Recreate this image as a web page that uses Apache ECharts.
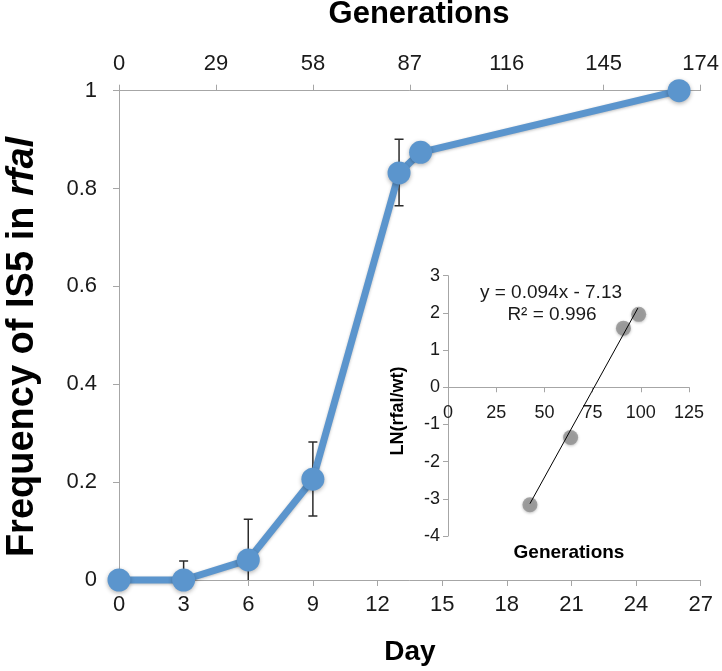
<!DOCTYPE html>
<html>
<head>
<meta charset="utf-8">
<script src="https://cdn.jsdelivr.net/npm/echarts@6/dist/echarts.min.js"></script>
<style>html,body{margin:0;padding:0;background:#fff}#c{width:722px;height:671px}</style>
</head>
<body>
<div id="c"></div>
<script>
// Main chart data
const days = [0, 3, 6, 9, 13, 14, 26];
const freq = [0, 0, 0.041, 0.206, 0.832, 0.874, 1.0];
const errLow = [null, -0.039, -0.043, 0.131, 0.765, null, null];
const errHigh = [null, 0.039, 0.124, 0.282, 0.901, null, null];
const dayTicks = [0, 3, 6, 9, 12, 15, 18, 21, 24, 27];
const genTicks = [0, 29, 58, 87, 116, 145, 174];
// Inset data
const insetGen = [42.5, 63.6, 91, 98.9];
const insetLn = [-3.16, -1.35, 1.59, 1.96];
const insetXTicks = [0, 25, 50, 75, 100, 125];
const insetYTicks = [-4, -3, -2, -1, 0, 1, 2, 3];
const trendX = [42.5, 98.5];
const trendY = [-3.13, 2.13];
const eqText = 'y = 0.094x - 7.13';
const r2Text = 'R² = 0.996';

const FONT = '"Liberation Sans", Arial, Helvetica, sans-serif';
const axisGray = '#a6a6a6';
const blue = '#5b95cd';

const chart = echarts.init(document.getElementById('c'), null, {renderer: 'canvas'});

const errData = [];
for (let i = 0; i < days.length; i++) {
  if (errLow[i] !== null) errData.push([days[i], errLow[i], errHigh[i]]);
}

// inset grid geometry
const inTop = 275.7, inBottom = 135, H = 671;
const inHeight = H - inBottom - inTop;
const yMin = insetYTicks[0], yMax = insetYTicks[insetYTicks.length - 1];
// place inset x axis at y = 0 (shift up from grid bottom)
const zeroOffset = -inHeight * (0 - yMin) / (yMax - yMin);

const option = {
  animation: false,
  backgroundColor: '#fff',
  textStyle: {fontFamily: FONT},
  grid: [
    {left: 119, right: 21, top: 90.7, bottom: 91},
    {left: 448, right: 33, top: inTop, bottom: inBottom}
  ],
  xAxis: [
    {
      type: 'value', gridIndex: 0, min: dayTicks[0], max: dayTicks[dayTicks.length - 1], interval: 3,
      position: 'bottom',
      axisLine: {show: true, lineStyle: {color: axisGray, width: 1}},
      axisTick: {show: true, length: 6, lineStyle: {color: axisGray}},
      splitLine: {show: false},
      axisLabel: {fontSize: 22, color: '#1a1a1a', margin: 14, fontFamily: FONT}
    },
    {
      type: 'value', gridIndex: 0, min: genTicks[0], max: genTicks[genTicks.length - 1], interval: 29,
      position: 'top',
      axisLine: {show: true, lineStyle: {color: axisGray, width: 1}},
      axisTick: {show: true, length: 6, lineStyle: {color: axisGray}},
      splitLine: {show: false},
      axisLabel: {fontSize: 22, color: '#1a1a1a', margin: 16, fontFamily: FONT}
    },
    {
      type: 'value', gridIndex: 1, min: insetXTicks[0], max: insetXTicks[insetXTicks.length - 1], interval: 25,
      position: 'bottom',
      offset: zeroOffset,
      axisLine: {show: true, onZero: false, lineStyle: {color: axisGray, width: 1}},
      axisTick: {show: true, length: 5, lineStyle: {color: axisGray}},
      splitLine: {show: false},
      axisLabel: {fontSize: 18, color: '#1a1a1a', margin: 17, fontFamily: FONT}
    }
  ],
  yAxis: [
    {
      type: 'value', gridIndex: 0, min: 0, max: 1, interval: 0.2,
      axisLine: {show: true, lineStyle: {color: axisGray, width: 1}},
      axisTick: {show: true, length: 6, lineStyle: {color: axisGray}},
      splitLine: {show: false},
      axisLabel: {fontSize: 22, color: '#1a1a1a', margin: 22, fontFamily: FONT}
    },
    {
      type: 'value', gridIndex: 1, min: yMin, max: yMax, interval: 1,
      axisLine: {show: true, onZero: false, lineStyle: {color: axisGray, width: 1}},
      axisTick: {show: true, length: 5, lineStyle: {color: axisGray}},
      splitLine: {show: false},
      axisLabel: {fontSize: 18, color: '#1a1a1a', margin: 8, fontFamily: FONT}
    }
  ],
  series: [
    {
      type: 'custom',
      xAxisIndex: 0, yAxisIndex: 0,
      clip: true,
      z: 1,
      data: errData,
      renderItem: function (params, api) {
        const x = api.value(0);
        const lo = api.coord([x, api.value(1)]);
        const hi = api.coord([x, api.value(2)]);
        const cw = 4.5;
        const st = {stroke: '#2b2b2b', lineWidth: 1.5};
        return {
          type: 'group',
          children: [
            {type: 'line', shape: {x1: lo[0], y1: lo[1], x2: hi[0], y2: hi[1]}, style: st},
            {type: 'line', shape: {x1: hi[0] - cw, y1: hi[1], x2: hi[0] + cw, y2: hi[1]}, style: st},
            {type: 'line', shape: {x1: lo[0] - cw, y1: lo[1], x2: lo[0] + cw, y2: lo[1]}, style: st}
          ]
        };
      }
    },
    {
      type: 'line',
      xAxisIndex: 0, yAxisIndex: 0,
      z: 3,
      data: days.map((d, i) => [d, freq[i]]),
      symbol: 'circle',
      symbolSize: 23,
      showAllSymbol: true,
      clip: false,
      lineStyle: {color: blue, width: 7, shadowBlur: 3, shadowColor: 'rgba(0,0,0,0.25)', shadowOffsetY: 1},
      itemStyle: {color: blue, borderWidth: 0, shadowBlur: 4, shadowColor: 'rgba(0,0,0,0.3)', shadowOffsetY: 1.5}
    },
    {
      type: 'line',
      xAxisIndex: 2, yAxisIndex: 1,
      z: 4,
      data: trendX.map((x, i) => [x, trendY[i]]),
      symbol: 'none',
      lineStyle: {color: '#000', width: 1}
    },
    {
      type: 'scatter',
      xAxisIndex: 2, yAxisIndex: 1,
      z: 3,
      data: insetGen.map((x, i) => [x, insetLn[i]]),
      symbol: 'circle',
      symbolSize: 15,
      itemStyle: {color: '#8e8e8e', shadowBlur: 3, shadowColor: 'rgba(0,0,0,0.3)', shadowOffsetY: 1}
    }
  ],
  graphic: [
    {
      type: 'text', x: 419, y: 14,
      style: {text: 'Generations', font: 'bold 31px ' + FONT, fill: '#000', align: 'center', verticalAlign: 'middle'}
    },
    {
      type: 'text', x: 410, y: 652,
      style: {text: 'Day', font: 'bold 28px ' + FONT, fill: '#000', align: 'center', verticalAlign: 'middle'}
    },
    {
      type: 'text', x: 23, y: 347, rotation: Math.PI / 2,
      style: {
        text: '{a|Frequency of IS5 in }{b|rfal}',
        align: 'center', verticalAlign: 'middle',
        rich: {
          a: {font: 'bold 38px ' + FONT, fill: '#000'},
          b: {font: 'italic bold 38px ' + FONT, fill: '#000'}
        }
      }
    },
    {
      type: 'text', x: 551, y: 293,
      style: {text: eqText, font: '19px ' + FONT, fill: '#1a1a1a', align: 'center', verticalAlign: 'middle'}
    },
    {
      type: 'text', x: 552, y: 315,
      style: {text: r2Text, font: '19px ' + FONT, fill: '#1a1a1a', align: 'center', verticalAlign: 'middle'}
    },
    {
      type: 'text', x: 569, y: 553,
      style: {text: 'Generations', font: 'bold 19px ' + FONT, fill: '#000', align: 'center', verticalAlign: 'middle'}
    },
    {
      type: 'text', x: 398, y: 411, rotation: Math.PI / 2,
      style: {text: 'LN(rfal/wt)', font: 'bold 18px ' + FONT, fill: '#000', align: 'center', verticalAlign: 'middle'}
    }
  ]
};
chart.setOption(option);
</script>
</body>
</html>
